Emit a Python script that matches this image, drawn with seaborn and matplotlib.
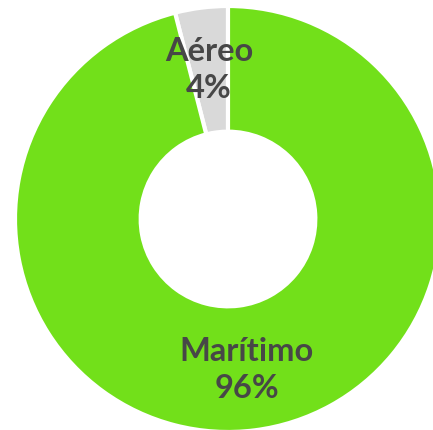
import numpy as np
import seaborn as sns
import matplotlib.pyplot as plt

# data
categories = ['Aéreo', 'Marítimo']
shares = [4, 96]
colors = ['#d9d9d9', '#72e01a']

sns.set_theme(style="white")
plt.rcParams['font.family'] = ['Lato', 'DejaVu Sans']

fig = plt.figure(figsize=(4.33, 4.31), dpi=100)
ax = fig.add_axes([0, 0, 1, 1])

labels = iter(categories)
wedges, texts, autotexts = ax.pie(
    shares, colors=colors, startangle=90, counterclock=True,
    wedgeprops=dict(width=0.59, edgecolor='white', linewidth=3),
    autopct=lambda p: '%s\n%d%%' % (next(labels), round(p)),
    pctdistance=0.71,
    textprops=dict(color='#474747', fontsize=23.5, fontweight='bold',
                   linespacing=1.35))

ax.set_xlim(-228 / 213, 205 / 213)
ax.set_ylim(-211 / 213, 220 / 213)
ax.set_aspect('auto')
ax.axis('off')

fig.savefig('out.png', dpi=100)
